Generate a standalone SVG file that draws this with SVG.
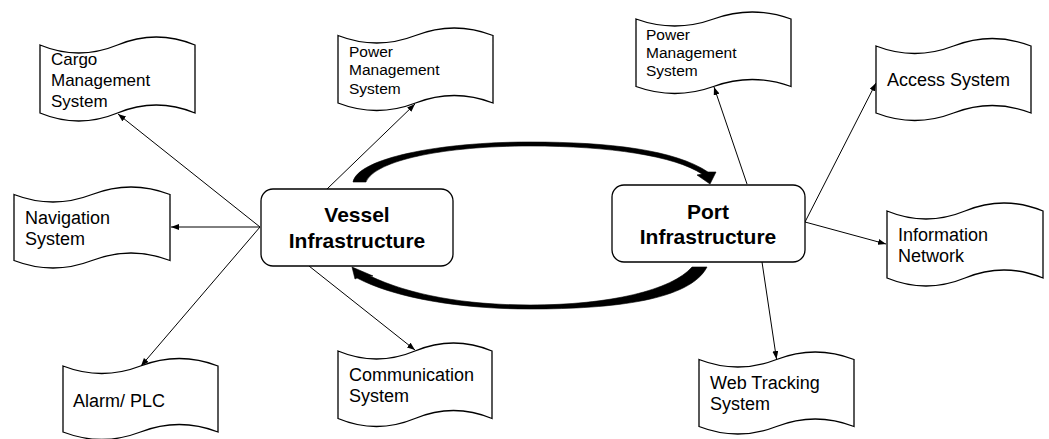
<svg xmlns="http://www.w3.org/2000/svg" width="1049" height="439" viewBox="0 0 1049 439">
<style>
.tape{fill:#fff;stroke:#000;stroke-width:1.3}
.hub{fill:#fff;stroke:#000;stroke-width:1.3}
.t{font-family:"Liberation Sans",Arial,sans-serif;font-size:18px;fill:#000}
.s{font-size:15.5px}
.c{font-size:17px}
.b{font-family:"Liberation Sans",Arial,sans-serif;font-size:21px;font-weight:bold;fill:#000;text-anchor:middle}
.ln{stroke:#000;stroke-width:1;fill:none;marker-end:url(#arr)}
.band{fill:#000;stroke:#000;stroke-width:0.6;stroke-linejoin:round}
</style>
<defs>
<marker id="arr" viewBox="0 0 8 6" refX="8" refY="3" markerWidth="8" markerHeight="6" orient="auto" markerUnits="userSpaceOnUse">
<path d="M0,0 L8,3 L0,6 Z" fill="#000"/>
</marker>
</defs>
<rect width="1049" height="439" fill="#fff"/>
<g id="connectors">
<line class="ln" x1="260" y1="227" x2="118" y2="114"/>
<line class="ln" x1="260" y1="227" x2="171" y2="227"/>
<line class="ln" x1="260" y1="227" x2="141" y2="366"/>
<line class="ln" x1="327" y1="189" x2="415" y2="104"/>
<line class="ln" x1="309" y1="266" x2="415" y2="350"/>
<line class="ln" x1="747" y1="184" x2="714" y2="87"/>
<line class="ln" x1="805" y1="222" x2="876" y2="83"/>
<line class="ln" x1="805" y1="222" x2="886" y2="244"/>
<line class="ln" x1="762" y1="262" x2="776.5" y2="359"/>
<path class="band" d="M353,182 C358,158 440,142 530,142 C610,142 675,150 708,172 L716,172 L710,184 L697,175 L702,174 C675,156 610,146 530,146 C445,146 375,160 366,182 Z"/>
<path class="band" d="M357,278 C395,298 460,309 530,309 C615,309 690,300 707,267 L692,267 C672,290 610,305 530,305 C465,305 410,295 370,276 L373,276 L352,267 L355,279 Z"/>
</g>
<g id="vessel">
<rect class="hub" x="261" y="189" width="192" height="77" rx="12"/>
<text class="b" x="357" y="222">Vessel</text>
<text class="b" x="357" y="247.5">Infrastructure</text>
</g>
<g id="port">
<rect class="hub" x="612" y="185" width="193" height="77" rx="12"/>
<text class="b" x="708" y="219">Port</text>
<text class="b" x="708" y="244">Infrastructure</text>
</g>
<g id="cargo">
<path class="tape" d="M40,45 Q78.75,61 117.5,45 Q156.25,29 195,45 L195,113 Q156.25,97 117.5,113 Q78.75,129 40,113 Z"/>
<text class="t c" x="51" y="65">Cargo</text>
<text class="t c" x="51" y="86">Management</text>
<text class="t c" x="51" y="106.5">System</text>
</g>
<g id="navigation">
<path class="tape" d="M14,194.5 Q53,209.5 92,194.5 Q131,179.5 170,194.5 L170,260.5 Q131,245.5 92,260.5 Q53,275.5 14,260.5 Z"/>
<text class="t" x="25" y="224">Navigation</text>
<text class="t" x="25" y="244.5">System</text>
</g>
<g id="alarm">
<path class="tape" d="M63,366 Q101.75,381 140.5,366 Q179.25,351 218,366 L218,432 Q179.25,417 140.5,432 Q101.75,447 63,432 Z"/>
<text class="t" x="73" y="406.5">Alarm/ PLC</text>
</g>
<g id="power-vessel">
<path class="tape" d="M338,35.5 Q376.75,50.5 415.5,35.5 Q454.25,20.5 493,35.5 L493,103 Q454.25,88 415.5,103 Q376.75,118 338,103 Z"/>
<text class="t s" x="349" y="56.5">Power</text>
<text class="t s" x="349" y="75">Management</text>
<text class="t s" x="349" y="93.5">System</text>
</g>
<g id="communication">
<path class="tape" d="M338,351 Q376.5,367 415,351 Q453.5,335 492,351 L492,418.5 Q453.5,402.5 415,418.5 Q376.5,434.5 338,418.5 Z"/>
<text class="t" x="349" y="380.5">Communication</text>
<text class="t" x="349" y="401.5">System</text>
</g>
<g id="power-port">
<path class="tape" d="M636,19 Q674.75,33 713.5,19 Q752.25,5 791,19 L791,86.5 Q752.25,72.5 713.5,86.5 Q674.75,100.5 636,86.5 Z"/>
<text class="t s" x="646" y="40">Power</text>
<text class="t s" x="646" y="58">Management</text>
<text class="t s" x="646" y="76">System</text>
</g>
<g id="access">
<path class="tape" d="M876,46 Q914.75,61 953.5,46 Q992.25,31 1031,46 L1031,113 Q992.25,98 953.5,113 Q914.75,128 876,113 Z"/>
<text class="t" x="887" y="86">Access System</text>
</g>
<g id="information">
<path class="tape" d="M887,211 Q926,227 965,211 Q1004,195 1043,211 L1043,278 Q1004,262 965,278 Q926,294 887,278 Z"/>
<text class="t" x="898" y="241">Information</text>
<text class="t" x="898" y="262">Network</text>
</g>
<g id="webtracking">
<path class="tape" d="M699,359.5 Q737.75,374.5 776.5,359.5 Q815.25,344.5 854,359.5 L854,426.5 Q815.25,411.5 776.5,426.5 Q737.75,441.5 699,426.5 Z"/>
<text class="t" x="710" y="389">Web Tracking</text>
<text class="t" x="710" y="409.5">System</text>
</g>
</svg>
